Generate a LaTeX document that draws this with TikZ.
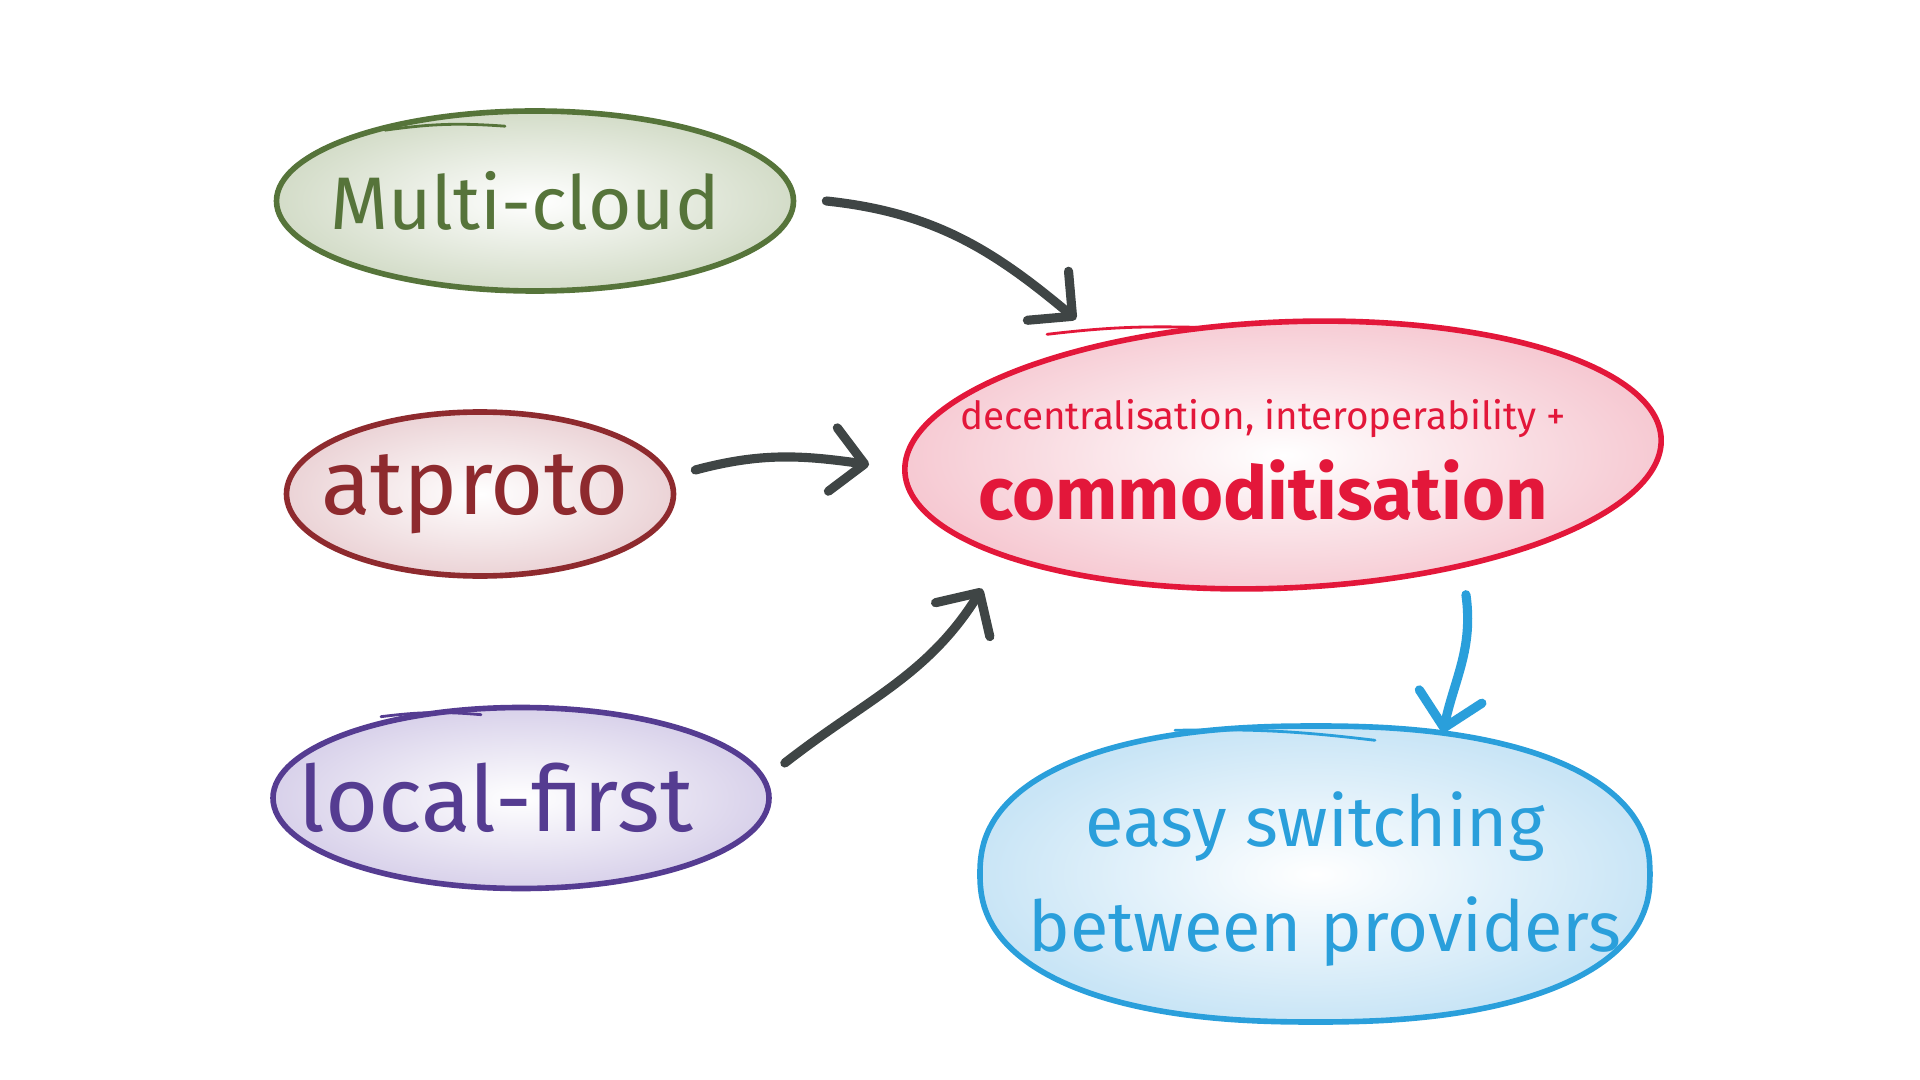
\documentclass[tikz,border=0pt]{standalone}
\usepackage{fontspec}
\setmainfont{Fira Sans}
\usetikzlibrary{shapes.geometric,arrows.meta}

\definecolor{cloudgreen}{HTML}{56743A}
\definecolor{cloudwash}{HTML}{D3DCC8}
\definecolor{protored}{HTML}{8E2A2E}
\definecolor{protowash}{HTML}{EBD3D6}
\definecolor{localpurple}{HTML}{553C91}
\definecolor{localwash}{HTML}{D8D1EA}
\definecolor{commodred}{HTML}{E3173A}
\definecolor{commodwash}{HTML}{F6C9D2}
\definecolor{switchblue}{HTML}{2A9FDB}
\definecolor{switchwash}{HTML}{C9E5F6}
\definecolor{inkgray}{HTML}{3F4545}

\tikzset{
  bubble/.style={ellipse, line width=1.6pt, shading=radial, inner color=white, inner sep=0pt},
  pen/.style={line width=2.6pt, line cap=round, draw=inkgray,
    -{Straight Barb[length=3.2mm, width=6.4mm, round]}},
  tail/.style={line width=0.8pt, line cap=round},
}

\begin{document}
\begin{tikzpicture}
    \useasboundingbox (0,0) rectangle (19.2,-10.8);

    % source bubbles
    \node[bubble, draw=cloudgreen, outer color=cloudwash, minimum width=5.17cm, minimum height=1.8cm,
      label={[text=cloudgreen, font=\fontsize{21.2}{26}\selectfont, xshift=-0.1cm]center:Multi-cloud}] (cloud) at (5.35,-2.01) {};
    \node[bubble, draw=protored, outer color=protowash, minimum width=3.87cm, minimum height=1.64cm,
      label={[text=protored, font=\fontsize{26}{30}\selectfont, xshift=-0.05cm]center:atproto}] (proto) at (4.80,-4.94) {};
    \node[bubble, draw=localpurple, outer color=localwash, minimum width=4.96cm, minimum height=1.81cm,
      label={[text=localpurple, font=\fontsize{26}{30}\selectfont, xshift=-0.25cm]center:local-first}] (local) at (5.21,-7.98) {};

    % result bubbles
    \node[bubble, draw=commodred, outer color=commodwash, minimum width=7.57cm, minimum height=2.66cm, rotate=2.5,
      label={[text=commodred, align=center, xshift=-0.2cm, yshift=-0.05cm]center:{\fontsize{11}{12}\selectfont decentralisation, interoperability +}\\[5pt]
        {\fontsize{21}{26}\selectfont\bfseries commoditisation}}] (commod) at (12.83,-4.55) {};
    \shade[inner color=white, outer color=switchwash, draw=switchblue, line width=1.6pt, shift={(13.15,-8.74)}]
      plot[domain=0:360, samples=90, smooth cycle, variable=\t]
      ({3.35*sign(cos(\t))*abs(cos(\t))^0.86}, {1.48*sign(sin(\t))*abs(sin(\t))^0.86});
    \node[ellipse, minimum width=6.69cm, minimum height=2.96cm, inner sep=0pt,
      label={[text=switchblue, align=center, font=\fontsize{20}{30}\selectfont, yshift=-0.05cm]center:easy switching\hspace{0.3cm}\\\hspace*{0.2cm}between providers}] (switch) at (13.15,-8.74) {};

    % pen tails at the top of each bubble
    \draw[tail, cloudgreen] ([shift={(-1.5,-0.22)}]cloud.north) to[bend left=6] ([shift={(-0.3,-0.18)}]cloud.north);
    \draw[tail, localpurple] ([shift={(-1.4,-0.12)}]local.north) to[bend left=6] ([shift={(-0.4,-0.1)}]local.north);
    \draw[tail, commodred] ([shift={(-2.3,-0.15)}]commod.north) to[bend left=4] ([shift={(-0.8,-0.08)}]commod.north);
    \draw[tail, switchblue] ([shift={(-1.4,-0.05)}]switch.north) to[bend left=4] ([shift={(0.6,-0.15)}]switch.north);

    % arrows
    \draw[pen] ([xshift=3mm]cloud.east) to[out=-6, in=140] ([shift={(-0.2mm,2.9mm)}]commod.150);
    \draw[pen] ([shift={(1.9mm,2.4mm)}]proto.east) to[out=15, in=172] ([shift={(-3.3mm,0.7mm)}]commod.west);
    \draw[pen] ([shift={(1.3mm,3.5mm)}]local.east) to[out=38, in=-122] ([shift={(8mm,-11.7mm)}]commod.west);
    \draw[pen, draw=switchblue] ([shift={(17.7mm,-0.4mm)}]commod.south) to[out=-82, in=78] ([shift={(12.8mm,-0.7mm)}]switch.north);
\end{tikzpicture}
\end{document}
